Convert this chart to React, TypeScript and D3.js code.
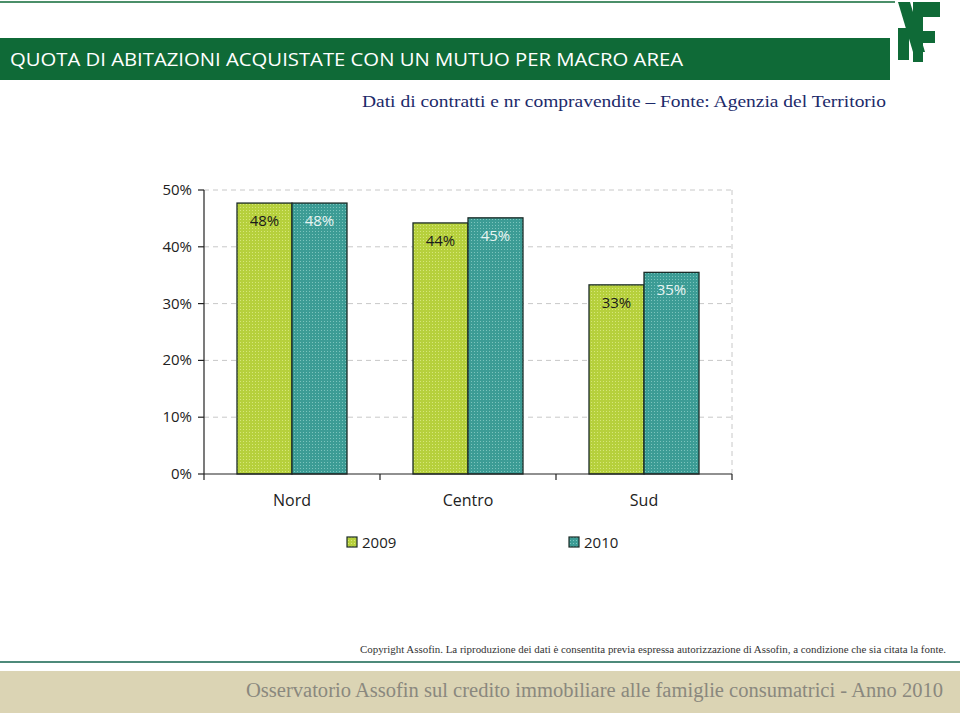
import React from "react";
import * as d3 from "d3";

const categories = ["Nord", "Centro", "Sud"];
const series = ["2009", "2010"];
const values2009 = [47.7, 44.2, 33.3];
const values2010 = [47.7, 45.1, 35.5];
const labels2009 = ["48%", "44%", "33%"];
const labels2010 = ["48%", "45%", "35%"];
const yTicks = [0, 10, 20, 30, 40, 50];

const W = 960;
const H = 716;
const plot = { left: 204, right: 732, top: 190, bottom: 474 };
const colors = { "2009": "#b6d03c", "2010": "#3c9c95" };
const green = "#0f6a37";
const sans = "'Open Sans', 'Noto Sans', sans-serif";
const serif = "'Liberation Serif', 'DejaVu Serif', serif";

export default function App() {
  const x = d3.scaleBand<string>().domain(categories).range([plot.left, plot.right]).paddingInner(0).paddingOuter(0);
  const inner = d3.scaleBand<string>().domain(series).range([0, x.bandwidth() * 0.625]);
  const groupOffset = (x.bandwidth() - x.bandwidth() * 0.625) / 2;
  const y = d3.scaleLinear().domain([0, 50]).range([plot.bottom, plot.top]);
  const dataBySeries: Record<string, number[]> = { "2009": values2009, "2010": values2010 };
  const labelsBySeries: Record<string, string[]> = { "2009": labels2009, "2010": labels2010 };

  const boundaries = [plot.left, ...categories.map((c) => (x(c) as number) + x.bandwidth())];

  return (
    <svg width={W} height={H} style={{ position: "absolute", left: 0, top: 0, background: "#fff" }}>
      <defs>
        <pattern id="p2009" width="3" height="3" patternUnits="userSpaceOnUse">
          <rect width="3" height="3" fill={colors["2009"]} />
          <rect width="1" height="1" fill="#d6e67a" />
        </pattern>
        <pattern id="p2010" width="3" height="3" patternUnits="userSpaceOnUse">
          <rect width="3" height="3" fill={colors["2010"]} />
          <rect width="1" height="1" fill="#7cc4bd" />
        </pattern>
      </defs>
      <rect x={0} y={0} width={W} height={H} fill="#fff" />
      {/* header */}
      <line x1={0} x2={895} y1={2} y2={2} stroke={green} strokeWidth={1.5} />
      <rect x={0} y={38} width={890} height={42} fill={green} />
      <text x={10} y={66} fill="#fff" fontFamily={sans} fontSize={19} textLength={673} lengthAdjust="spacingAndGlyphs">
        QUOTA DI ABITAZIONI ACQUISTATE CON UN MUTUO PER MACRO AREA
      </text>
      <text x={886} y={107} fill="#1c2a6a" fontFamily={serif} fontSize={16} textAnchor="end" textLength={524} lengthAdjust="spacingAndGlyphs">
        Dati di contratti e nr compravendite – Fonte: Agenzia del Territorio
      </text>
      {/* logo */}
      <g fill={green}>
        <polygon points="898,2 910,2 925,52 913,52" />
        <rect x={898} y={28} width={11} height={32} />
        <rect x={913} y={2} width={10} height={60} />
        <rect x={913} y={2} width={27} height={15} />
        <rect x={913} y={31} width={22} height={12} />
      </g>
      {/* grid */}
      {yTicks.filter((t) => t > 0).map((t) => (
        <line key={t} x1={plot.left} x2={plot.right} y1={y(t)} y2={y(t)} stroke="#c8c8c8" strokeDasharray="5,4" />
      ))}
      <line x1={plot.right} x2={plot.right} y1={plot.top} y2={plot.bottom} stroke="#c8c8c8" strokeDasharray="5,4" />
      {/* bars */}
      {series.map((s) =>
        categories.map((c, i) => {
          const bx = (x(c) as number) + groupOffset + (inner(s) as number);
          const v = dataBySeries[s][i];
          return (
            <g key={s + c}>
              <rect x={bx} y={y(v)} width={inner.bandwidth()} height={plot.bottom - y(v)} fill={`url(#p${s})`} stroke="#1b2b27" strokeWidth={1.3} />
              <text x={bx + inner.bandwidth() / 2} y={y(v) + 23} textAnchor="middle" fontFamily={sans} fontSize={15} fill={s === "2009" ? "#1a1a1a" : "#e8f4f2"}>
                {labelsBySeries[s][i]}
              </text>
            </g>
          );
        })
      )}
      {/* y axis */}
      <line x1={plot.left} x2={plot.left} y1={plot.top} y2={plot.bottom} stroke="#222" strokeWidth={1.2} />
      {yTicks.map((t) => (
        <g key={t}>
          <line x1={plot.left - 6} x2={plot.left} y1={y(t)} y2={y(t)} stroke="#222" strokeWidth={1.2} />
          <text x={192} y={y(t) + 5} textAnchor="end" fontFamily={sans} fontSize={15} fill="#222">
            {t}%
          </text>
        </g>
      ))}
      {/* x axis */}
      <line x1={plot.left} x2={plot.right} y1={plot.bottom} y2={plot.bottom} stroke="#222" strokeWidth={1.2} />
      {boundaries.map((b, i) => (
        <line key={i} x1={b} x2={b} y1={plot.bottom} y2={plot.bottom + 6} stroke="#222" strokeWidth={1.2} />
      ))}
      {categories.map((c) => (
        <text key={c} x={(x(c) as number) + x.bandwidth() / 2} y={506} textAnchor="middle" fontFamily={sans} fontSize={16} fill="#222">
          {c}
        </text>
      ))}
      {/* legend */}
      {series.map((s, i) => {
        const lx = i === 0 ? 347 : 569;
        return (
          <g key={s}>
            <rect x={lx} y={537} width={10} height={10} fill={`url(#p${s})`} stroke="#1b2b27" strokeWidth={1.2} />
            <text x={lx + 15} y={548} fontFamily={sans} fontSize={15} fill="#222">
              {s}
            </text>
          </g>
        );
      })}
      {/* footer */}
      <text x={360} y={653} fontFamily={serif} fontSize={11} fill="#333" textLength={586} lengthAdjust="spacingAndGlyphs">
        Copyright Assofin. La riproduzione dei dati è consentita previa espressa autorizzazione di Assofin, a condizione che sia citata la fonte.
      </text>
      <line x1={0} x2={W} y1={662} y2={662} stroke="#4e8a7a" strokeWidth={2} />
      <rect x={0} y={671} width={W} height={42} fill="#dbd4b4" />
      <text x={246} y={697} fontFamily={serif} fontSize={20} fill="#8a887e" textLength={697} lengthAdjust="spacingAndGlyphs">
        Osservatorio Assofin sul credito immobiliare alle famiglie consumatrici - Anno 2010
      </text>
    </svg>
  );
}
